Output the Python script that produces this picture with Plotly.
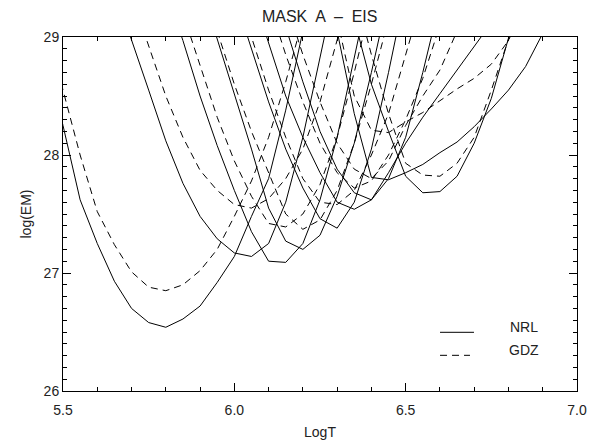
import plotly.graph_objects as go

# Temperature grid (log T), step 0.05
LOGT = [5.45, 5.50, 5.55, 5.60, 5.65, 5.70, 5.75, 5.80, 5.85, 5.90,
        5.95, 6.00, 6.05, 6.10, 6.15, 6.20, 6.25, 6.30, 6.35, 6.40,
        6.45, 6.50, 6.55, 6.60, 6.65, 6.70, 6.75, 6.80, 6.85, 6.90]

# NRL (solid) EM loci curves: start logT and log(EM) values
NRL_START = [5.45, 5.65, 5.80, 5.90, 6.00, 6.05, 6.10, 6.30, 6.35]
NRL_1 = [28.85, 28.25, 27.62, 27.25, 26.93, 26.70, 26.58, 26.54, 26.61, 26.72, 26.92, 27.14, 27.48, 27.80, 28.38, 29.05]
NRL_2 = [29.40, 28.98, 28.55, 28.12, 27.76, 27.48, 27.29, 27.17, 27.14, 27.25, 27.60, 28.15, 28.80, 29.50]
NRL_3 = [29.40, 28.97, 28.50, 28.08, 27.70, 27.35, 27.10, 27.09, 27.25, 27.62, 28.15, 28.85, 29.50]
NRL_4 = [29.45, 28.98, 28.50, 28.05, 27.55, 27.27, 27.20, 27.32, 27.65, 28.10, 28.70, 29.35]
NRL_5 = [29.35, 28.90, 28.45, 28.05, 27.72, 27.46, 27.38, 27.60, 28.05, 28.70, 29.40]
NRL_6 = [29.40, 28.95, 28.50, 28.15, 27.85, 27.60, 27.54, 27.62, 27.85, 28.10, 28.32, 28.52, 28.72, 28.92, 29.12]
NRL_7 = [29.55, 29.08, 28.62, 28.20, 27.88, 27.68, 27.62, 27.80, 28.15, 28.70, 29.30]
NRL_8 = [29.05, 28.35, 27.81, 27.79, 27.85, 27.92, 28.02, 28.11, 28.24, 28.39, 28.55, 28.75, 29.03]
NRL_9 = [29.15, 28.60, 28.20, 27.82, 27.68, 27.69, 27.82, 28.10, 28.48, 28.97, 29.50]
NRL_CURVES = [NRL_1, NRL_2, NRL_3, NRL_4, NRL_5, NRL_6, NRL_7, NRL_8, NRL_9]

# GDZ (dashed) EM loci curves
GDZ_START = [5.45, 5.70, 5.85, 5.95, 6.00, 6.10, 6.15, 6.30, 6.35]
GDZ_1 = [29.10, 28.55, 28.00, 27.52, 27.24, 27.01, 26.88, 26.85, 26.90, 27.02, 27.20, 27.48, 27.78, 28.15, 28.62, 29.15]
GDZ_2 = [29.35, 28.92, 28.50, 28.15, 27.87, 27.70, 27.58, 27.55, 27.63, 27.80, 28.05, 28.45, 28.95, 29.50]
GDZ_3 = [29.20, 28.75, 28.32, 27.95, 27.65, 27.42, 27.39, 27.50, 27.75, 28.15, 28.70, 29.30]
GDZ_4 = [29.05, 28.60, 28.20, 27.85, 27.50, 27.37, 27.45, 27.70, 28.10, 28.60, 29.15]
GDZ_5 = [29.45, 29.00, 28.55, 28.15, 27.80, 27.60, 27.58, 27.70, 28.00, 28.35, 28.85, 29.35]
GDZ_6 = [29.30, 28.85, 28.45, 28.10, 27.85, 27.72, 27.78, 28.00, 28.30, 28.65, 29.10]
GDZ_7 = [29.30, 28.85, 28.45, 28.10, 27.88, 27.80, 27.95, 28.25, 28.50, 28.72, 29.05]
GDZ_8 = [29.15, 28.50, 28.21, 28.19, 28.28, 28.36, 28.46, 28.56, 28.65, 28.77, 28.97, 29.30]
GDZ_9 = [29.40, 28.85, 28.35, 27.93, 27.83, 27.82, 27.93, 28.15, 28.55, 28.98, 29.50]
GDZ_CURVES = [GDZ_1, GDZ_2, GDZ_3, GDZ_4, GDZ_5, GDZ_6, GDZ_7, GDZ_8, GDZ_9]

X_TICKS = [5.5, 6.0, 6.5, 7.0]
X_TICK_TEXT = ["5.5", "6.0", "6.5", "7.0"]
Y_TICKS = [26, 27, 28, 29]
Y_TICK_TEXT = ["26", "27", "28", "29"]
LEGEND_LABELS = ["NRL", "GDZ"]

FONT = "Liberation Sans"


def grid_slice(start, vals):
    i0 = round((start - LOGT[0]) / 0.05)
    return LOGT[i0:i0 + len(vals)]


fig = go.Figure()
for start, vals in zip(NRL_START, NRL_CURVES):
    fig.add_trace(go.Scatter(x=grid_slice(start, vals), y=vals, mode="lines",
                             line=dict(color="black", width=1), showlegend=False,
                             hoverinfo="skip"))
for start, vals in zip(GDZ_START, GDZ_CURVES):
    fig.add_trace(go.Scatter(x=grid_slice(start, vals), y=vals, mode="lines",
                             line=dict(color="black", width=1, dash="7px,5px"),
                             showlegend=False, hoverinfo="skip"))

axis_common = dict(showline=True, linecolor="black", linewidth=1, mirror="allticks",
                   ticks="inside", ticklen=8, tickcolor="black", tickwidth=1,
                   showgrid=False, zeroline=False, automargin=False,
                   tickfont=dict(family=FONT, size=14, color="#222"))

fig.update_xaxes(range=[5.5, 7.0], tickvals=X_TICKS, ticktext=X_TICK_TEXT,
                 ticklabelstandoff=6,
                 minor=dict(ticks="inside", ticklen=4, dtick=0.1, tickcolor="black", showgrid=False),
                 title=dict(text="LogT", font=dict(family=FONT, size=14, color="#222"), standoff=10),
                 **axis_common)
fig.update_yaxes(range=[26, 29], tickvals=Y_TICKS, ticktext=Y_TICK_TEXT,
                 minor=dict(ticks="inside", ticklen=4, dtick=0.1, tickcolor="black", showgrid=False),
                 title=dict(text="log(EM)", font=dict(family=FONT, size=14, color="#222"), standoff=8),
                 **axis_common)

# legend drawn as line samples + labels
fig.add_shape(type="line", xref="paper", yref="paper", x0=0.7335, x1=0.7996, y0=0.1658, y1=0.1658,
              line=dict(color="black", width=1))
fig.add_shape(type="line", xref="paper", yref="paper", x0=0.7335, x1=0.7918, y0=0.1008, y1=0.1008,
              line=dict(color="black", width=1, dash="7px,5px"))
fig.add_annotation(xref="paper", yref="paper", x=0.896, y=0.18, text=LEGEND_LABELS[0], showarrow=False,
                   xanchor="center", yanchor="middle",
                   font=dict(family=FONT, size=14, color="#222"))
fig.add_annotation(xref="paper", yref="paper", x=0.896, y=0.115, text=LEGEND_LABELS[1], showarrow=False,
                   xanchor="center", yanchor="middle",
                   font=dict(family=FONT, size=14, color="#222"))

fig.update_layout(
    width=592, height=440,
    margin=dict(l=63, r=15, t=37, b=49),
    paper_bgcolor="white", plot_bgcolor="white",
    title=dict(text="MASK  A  –  EIS", x=0.54, xanchor="center", y=0.962, yanchor="middle",
               font=dict(family=FONT, size=16, color="#222")),
)

fig.write_html("out.html")
